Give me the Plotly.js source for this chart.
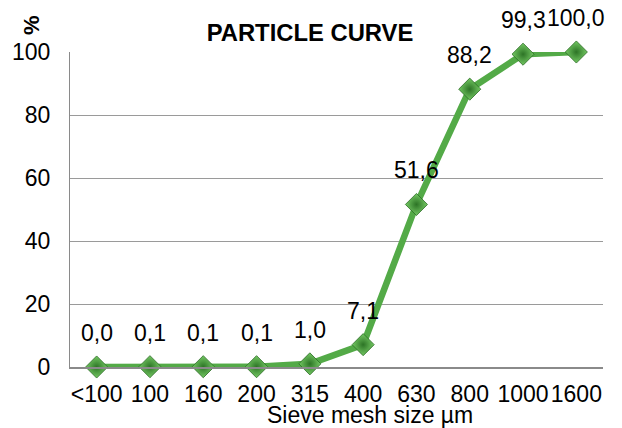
<!DOCTYPE html>
<html><head><meta charset="utf-8">
<script src="https://cdn.plot.ly/plotly-3.0.1.min.js"></script>
<style>body{margin:0;background:#fff}#chart{width:622px;height:428px}</style>
</head><body><div id="chart"></div>
<script>
const categories = ["<100","100","160","200","315","400","630","800","1000","1600"];
const passing = [0.0, 0.1, 0.1, 0.1, 1.0, 7.1, 51.6, 88.2, 99.3, 100.0];
const labels = passing.map(v => v.toFixed(1).replace('.', ','));
const xpos = categories.map((_, i) => i);
const FONT = 'Liberation Sans, Arial, sans-serif';

const trace = {
  x: xpos, y: passing, type: 'scatter', mode: 'lines+markers',
  line: {color: '#53aa47', width: 6.5},
  marker: {symbol: 'diamond', size: 17, color: '#74c963',
           gradient: {type: 'radial', color: '#2d7426'},
           line: {color: '#2a6b23', width: 0.8}},
  hoverinfo: 'none', cliponaxis: false
};

const annotations = xpos.map((x, i) => ({
  x: x, y: passing[i], xref: 'x', yref: 'y', text: labels[i], showarrow: false,
  yshift: 34, font: {size: 23, color: '#000', family: FONT}
}));
annotations.push({
  xref: 'paper', yref: 'paper', x: -(70 - 31) / 533, y: (367 - 25) / 315,
  xanchor: 'center', yanchor: 'middle', text: '<b>%</b>', textangle: -90,
  showarrow: false, font: {size: 22, color: '#000', family: FONT}
});
annotations.push({
  xref: 'paper', yref: 'paper', x: (370 - 70) / 533, y: -(415 - 367) / 315,
  xanchor: 'center', yanchor: 'middle',
  text: 'Sieve mesh size µm', showarrow: false, font: {size: 23, color: '#000', family: FONT}
});

const layout = {
  width: 622, height: 428,
  margin: {l: 70, r: 19, t: 52, b: 61},
  paper_bgcolor: '#fff', plot_bgcolor: '#fff',
  font: {family: FONT, size: 23, color: '#000'},
  title: {text: '<b>PARTICLE CURVE</b>', font: {size: 23.8, color: '#000'}, x: 310 / 622, xanchor: 'center', y: 1 - 33 / 428, yanchor: 'middle'},
  xaxis: {
    range: [-0.5, 9.5], tickmode: 'array', tickvals: xpos, ticktext: categories,
    tickangle: 0, showgrid: false, showline: true, linecolor: '#8a8a8a', linewidth: 2,
    ticks: '', tickfont: {size: 23}, zeroline: false, ticklabelstandoff: 5
  },
  yaxis: {
    range: [0, 100], dtick: 20, showgrid: true, gridcolor: '#9a9a9a', gridwidth: 1,
    showline: true, linecolor: '#8a8a8a', linewidth: 1, ticks: '',
    tickfont: {size: 23}, zeroline: false, ticklabelstandoff: 14
  },
  annotations: annotations,
  showlegend: false
};

Plotly.newPlot('chart', [trace], layout, {displayModeBar: false, staticPlot: true});
</script></body></html>
